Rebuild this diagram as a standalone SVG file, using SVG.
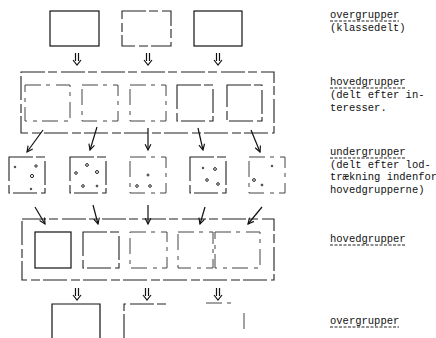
<svg xmlns="http://www.w3.org/2000/svg" width="436" height="338" viewBox="0 0 436 338">
<style>
.b{fill:none;stroke:#111;stroke-width:1.2}
.d{fill:none;stroke:#222;stroke-width:1.1;stroke-dasharray:24 3 9 4}
.f{fill:none;stroke:#444;stroke-width:1;stroke-dasharray:16 5 4 6}
.a{fill:none;stroke:#111;stroke-width:1.2}
.dot{fill:none;stroke:#222;stroke-width:1}
text{font-family:"Liberation Mono","DejaVu Sans Mono",monospace;font-size:10.5px;fill:#111}
.u{stroke:#222;stroke-width:1;stroke-dasharray:3 1.5}
</style>
<defs>
<marker id="ah" viewBox="0 0 10 10" refX="9" refY="5" markerWidth="6" markerHeight="6" orient="auto-start-reverse">
<path d="M1,1 L9,5 L1,9" fill="none" stroke="#111" stroke-width="1.6"/>
</marker>
<g id="dbl">
<path d="M-1.5,0 V8 M1.5,0 V8 M-4,7 L0,12 L4,7" class="a" stroke-width="1.4"/>
</g>
</defs>
<g id="over-top">
<rect class="b" x="50" y="11" width="49" height="35"/>
<rect class="d" x="122" y="11" width="49" height="35"/>
<rect class="b" x="194" y="11" width="48" height="35"/>
</g>
<g id="hoved-top">
<rect class="d" x="21" y="72" width="253" height="61"/>
<rect class="f" x="25" y="85" width="45" height="36"/>
<rect class="f" x="82" y="85" width="36" height="36"/>
<rect class="f" x="130" y="85" width="36" height="36"/>
<rect class="d" x="177" y="85" width="36" height="36"/>
<rect class="d" x="227" y="85" width="35" height="36"/>
</g>
<g id="under">
<rect class="d" x="9" y="157" width="36" height="36"/>
<rect class="d" x="70" y="157" width="36" height="36"/>
<rect class="f" x="130" y="157" width="36" height="36"/>
<rect class="d" x="190" y="157" width="36" height="36"/>
<rect class="f" x="249" y="157" width="36" height="36"/>
<g class="dot">
<circle cx="32" cy="176" r="1.6"/><circle cx="36" cy="166" r="1.2"/><circle cx="15" cy="167" r="0.8"/><circle cx="31" cy="189" r="0.8"/>
<circle cx="87" cy="165" r="1.4"/><circle cx="76" cy="173" r="1.3"/><circle cx="97" cy="172" r="1.5"/><circle cx="83" cy="186" r="1.3"/><circle cx="97" cy="186" r="0.9"/>
<circle cx="148" cy="175" r="1"/><circle cx="137" cy="186" r="1.3"/><circle cx="150" cy="186" r="1.3"/>
<circle cx="215" cy="169" r="1.4"/><circle cx="207" cy="180" r="1.3"/><circle cx="218" cy="184" r="1.3"/><circle cx="203" cy="168" r="0.8"/>
<circle cx="254" cy="180" r="1.4"/><circle cx="272" cy="166" r="0.8"/><circle cx="262" cy="185" r="0.9"/>
</g>
</g>
<g id="hoved-bottom">
<rect class="d" x="22" y="219" width="252" height="61"/>
<rect class="b" x="35" y="232" width="36" height="36"/>
<rect class="d" x="83" y="232" width="36" height="36"/>
<rect class="f" x="130" y="232" width="37" height="36"/>
<rect class="f" x="178" y="232" width="35" height="36"/>
<rect class="f" x="215" y="232" width="45" height="36"/>
</g>
<g id="over-bottom">
<path class="b" d="M52,338 V304 H100 V338"/>
<path class="d" d="M124,338 V304 H168"/>
<path class="f" d="M206,303 H236 M244,313 V330"/>
</g>
<g id="connectors">
<use href="#dbl" x="77" y="53"/>
<use href="#dbl" x="148" y="53"/>
<use href="#dbl" x="218" y="53"/>
<line class="a" x1="43" y1="130" x2="27" y2="152" marker-end="url(#ah)"/>
<line class="a" x1="97" y1="127" x2="90" y2="150" marker-end="url(#ah)"/>
<line class="a" x1="148" y1="128" x2="148" y2="150" marker-end="url(#ah)"/>
<line class="a" x1="198" y1="128" x2="203" y2="150" marker-end="url(#ah)"/>
<line class="a" x1="251" y1="130" x2="260" y2="152" marker-end="url(#ah)"/>
<line class="a" x1="35" y1="207" x2="45" y2="224" marker-end="url(#ah)"/>
<line class="a" x1="93" y1="205" x2="98" y2="224" marker-end="url(#ah)"/>
<line class="a" x1="148" y1="205" x2="148" y2="224" marker-end="url(#ah)"/>
<line class="a" x1="205" y1="207" x2="200" y2="224" marker-end="url(#ah)"/>
<line class="a" x1="262" y1="207" x2="248" y2="224" marker-end="url(#ah)"/>
<use href="#dbl" x="77" y="288"/>
<use href="#dbl" x="147" y="288"/>
<use href="#dbl" x="218" y="288"/>
</g>
<g id="labels">
<text x="330" y="18">overgrupper</text>
<line class="u" x1="330" y1="21" x2="399" y2="21"/>
<text x="330" y="31">(klassedelt)</text>
<text x="330" y="85">hovedgrupper</text>
<line class="u" x1="330" y1="88" x2="405" y2="88"/>
<text x="330" y="98">(delt efter in-</text>
<text x="330" y="111">teresser.</text>
<text x="330" y="155">undergrupper</text>
<line class="u" x1="330" y1="158" x2="405" y2="158"/>
<text x="330" y="168">(delt efter lod-</text>
<text x="330" y="180">trækning indenfor</text>
<text x="330" y="193">hovedgrupperne)</text>
<text x="330" y="242">hovedgrupper</text>
<line class="u" x1="330" y1="245" x2="405" y2="245"/>
<text x="330" y="324">overgrupper</text>
<line class="u" x1="330" y1="327" x2="399" y2="327"/>
</g>
</svg>
